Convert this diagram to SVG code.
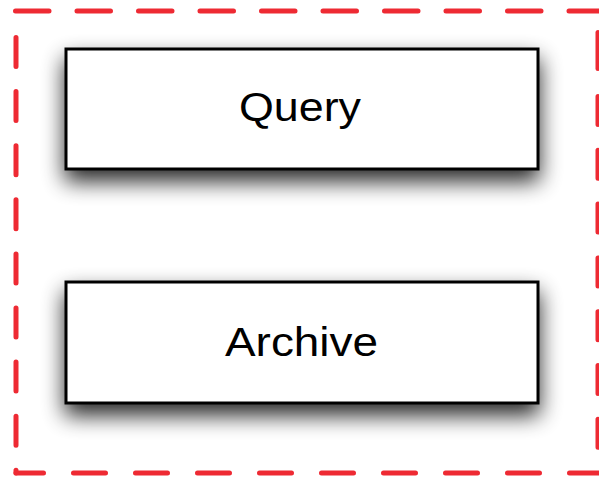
<svg xmlns="http://www.w3.org/2000/svg" width="599" height="481" viewBox="0 0 599 481">
  <style>
    .frame { stroke: #ee2a33; stroke-width: 5; stroke-linecap: round; fill: none; }
    .box { fill: #ffffff; stroke: #000000; stroke-width: 3; }
    .label { font-family: "Liberation Sans", Arial, sans-serif; font-size: 40px; fill: #000000; text-anchor: middle; }
  </style>
  <defs>
    <filter id="shadow" x="-20%" y="-50%" width="140%" height="220%">
      <feGaussianBlur in="SourceAlpha" stdDeviation="11"/>
      <feOffset dx="0" dy="11" result="b"/>
      <feComponentTransfer><feFuncA type="linear" slope="0.85"/></feComponentTransfer>
      <feMerge><feMergeNode/><feMergeNode in="SourceGraphic"/></feMerge>
    </filter>
  </defs>
  <rect width="599" height="481" fill="#ffffff"/>
  <g id="frame">
    <line class="frame" x1="15.5" y1="11" x2="601" y2="11" stroke-dasharray="33.5 28"/>
    <line class="frame" x1="16" y1="37.5" x2="16" y2="473" stroke-dasharray="29 25.1"/>
    <line class="frame" x1="16" y1="473" x2="601" y2="473" stroke-dasharray="32 30" stroke-dashoffset="4.5"/>
    <line class="frame" x1="598" y1="32.5" x2="598" y2="68.5"/>
    <line class="frame" x1="598" y1="96.5" x2="598" y2="473" stroke-dasharray="28 25.8"/>
  </g>
  <g id="query">
    <rect class="box" x="66" y="49" width="472" height="120" filter="url(#shadow)"/>
    <text class="label" x="300" y="121" textLength="122" lengthAdjust="spacingAndGlyphs">Query</text>
  </g>
  <g id="archive">
    <rect class="box" x="66" y="282" width="472" height="121" filter="url(#shadow)"/>
    <text class="label" x="301.5" y="356" textLength="153" lengthAdjust="spacingAndGlyphs">Archive</text>
  </g>
  <g id="connectors"></g>
</svg>
